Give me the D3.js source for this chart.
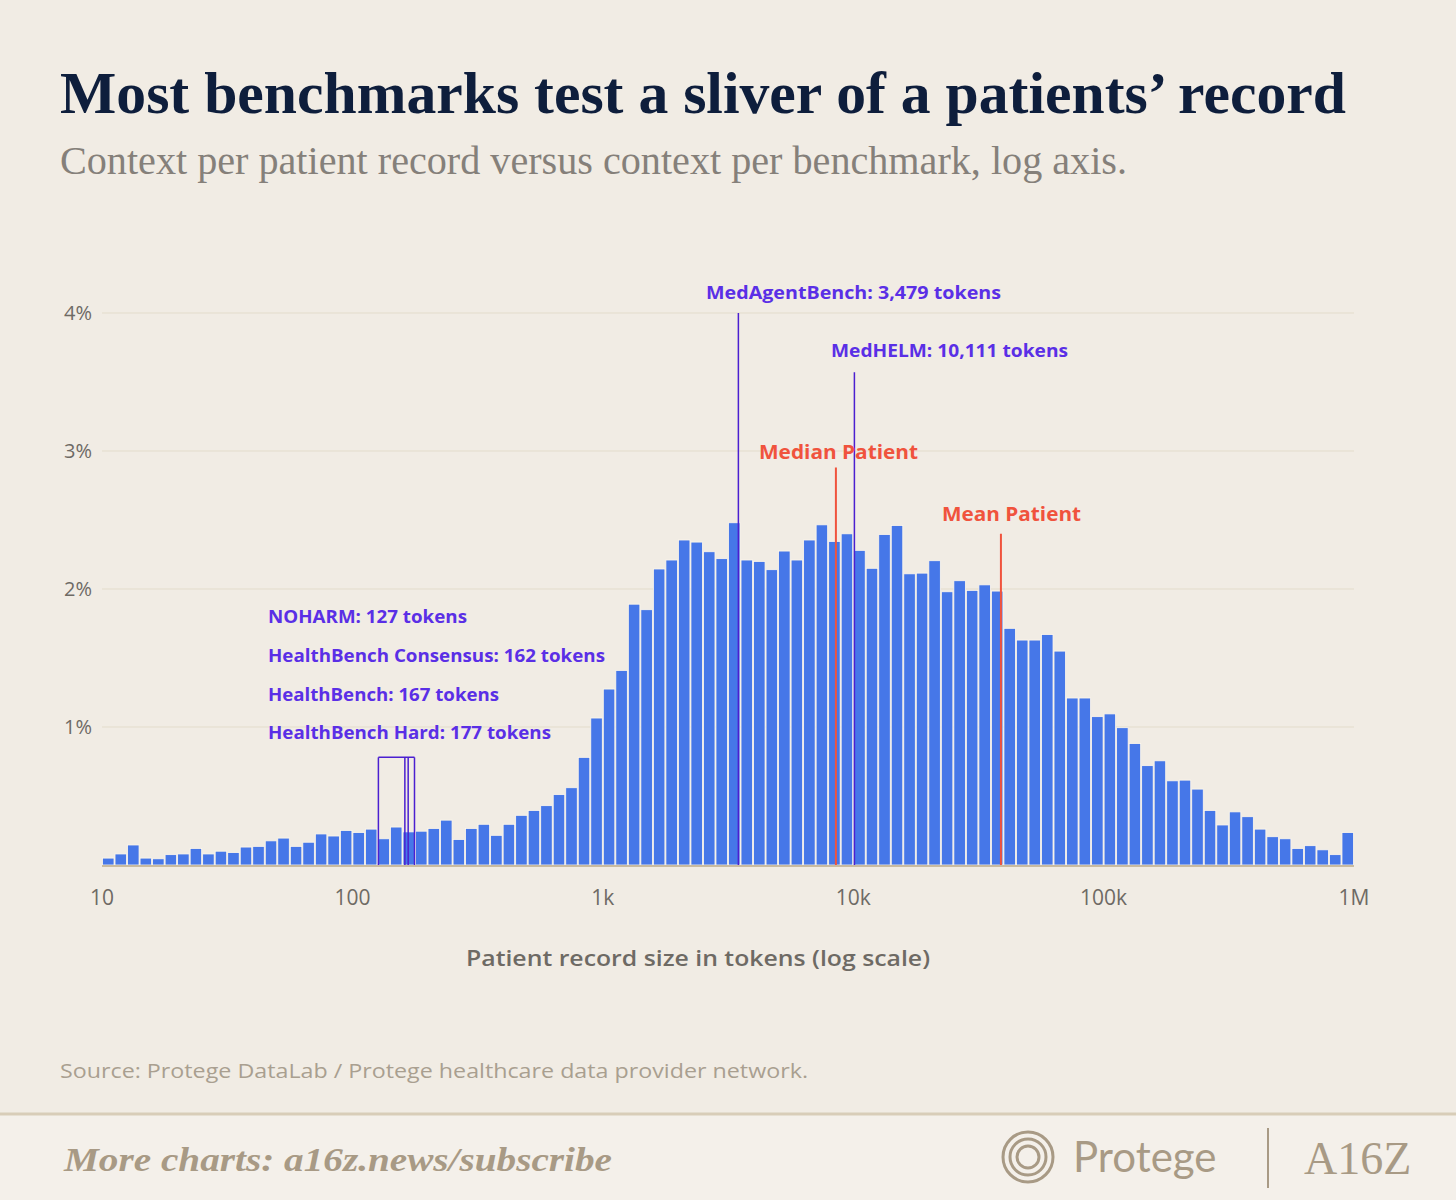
<!DOCTYPE html>
<html><head><meta charset="utf-8">
<script src="https://cdn.jsdelivr.net/npm/d3@7"></script>
<style>body{margin:0;background:#F1ECE4}</style></head>
<body><svg id="c" width="1456" height="1200"></svg>
<script>
const binValues=[0.05,0.08,0.145,0.05,0.045,0.075,0.08,0.12,0.08,0.10,0.09,0.13,0.135,0.175,0.195,0.135,0.165,0.225,0.21,0.25,
0.235,0.26,0.19,0.275,0.24,0.245,0.265,0.325,0.185,0.265,0.295,0.215,0.295,0.36,0.395,0.43,0.51,0.56,0.78,1.065,
1.275,1.41,1.89,1.85,2.145,2.21,2.355,2.34,2.27,2.22,2.48,2.21,2.20,2.14,2.275,2.21,2.355,2.465,2.345,2.40,
2.28,2.15,2.395,2.46,2.11,2.115,2.205,1.98,2.06,1.99,2.03,1.985,1.715,1.63,1.63,1.67,1.55,1.21,1.21,1.075,
1.095,0.995,0.88,0.72,0.755,0.61,0.615,0.55,0.395,0.29,0.385,0.35,0.26,0.205,0.19,0.12,0.14,0.11,0.075,0.235];
const xTicks=[10,100,1000,10000,100000,1000000];
const xTickLabels=["10","100","1k","10k","100k","1M"];
const yTicks=[1,2,3,4];
const bigBench=[{name:"MedAgentBench: 3,479 tokens",v:3479,top:4.0,lx:706,lw:295,ly:293},{name:"MedHELM: 10,111 tokens",v:10111,top:3.57,lx:831,lw:237,ly:351}];
const smallBench=[{name:"NOHARM: 127 tokens",v:127,lw:199},{name:"HealthBench Consensus: 162 tokens",v:162,lw:337},{name:"HealthBench: 167 tokens",v:167,lw:231},{name:"HealthBench Hard: 177 tokens",v:177,lw:283}];
const patients=[{name:"Median Patient",v:8530,top:2.88,lx:759,lw:159,ly:452},{name:"Mean Patient",v:38900,top:2.4,lx:942,lw:139,ly:514}];

const svg=d3.select("#c");
svg.append("rect").attr("width",1456).attr("height",1200).attr("fill","#F1ECE4");
const x=d3.scaleLog().domain([10,1e6]).range([102,1354]);
const y=d3.scaleLinear().domain([0,4]).range([865,313]);
const sans="'Open Sans', Lato, sans-serif";

svg.append("text").attr("x",60).attr("y",113).attr("font-family","'Liberation Serif',serif").attr("font-weight","bold").attr("font-size",60).attr("fill","#0E1E3C").attr("textLength",1286).attr("lengthAdjust","spacingAndGlyphs").text("Most benchmarks test a sliver of a patients’ record");
svg.append("text").attr("x",60).attr("y",174).attr("font-family","'Liberation Serif',serif").attr("font-size",40).attr("fill","#85807A").attr("textLength",1067).attr("lengthAdjust","spacingAndGlyphs").text("Context per patient record versus context per benchmark, log axis.");

svg.append("g").selectAll("line").data(yTicks).join("line").attr("x1",102).attr("x2",1354).attr("y1",d=>y(d)).attr("y2",d=>y(d)).attr("stroke","#E3DCCB").attr("stroke-width",1);
svg.append("g").selectAll("text").data(yTicks).join("text").attr("x",92).attr("y",d=>y(d)+7).attr("text-anchor","end").attr("font-family",sans).attr("font-size",20).attr("fill","#6E6A64").text(d=>d+"%");

const edges=d3.range(101).map(i=>Math.pow(10,1+i*0.05));
svg.append("g").selectAll("rect").data(binValues).join("rect")
 .attr("x",(d,i)=>x(edges[i])+0.5).attr("width",(d,i)=>x(edges[i+1])-x(edges[i])-1)
 .attr("y",d=>y(d)).attr("height",d=>y(0)-y(d)).attr("fill","#4677E8").attr("stroke","#FFF8EC").attr("stroke-width",0.8);

svg.append("line").attr("x1",102).attr("x2",1354).attr("y1",866).attr("y2",866).attr("stroke","#C9BBA0").attr("stroke-width",2);
svg.append("g").selectAll("text").data(xTicks).join("text").attr("x",d=>x(d)).attr("y",905).attr("text-anchor","middle").attr("font-family",sans).attr("font-size",21).attr("fill","#6E6A64").text((d,i)=>xTickLabels[i]);
svg.append("text").attr("x",466).attr("y",966).attr("font-family",sans).attr("font-weight","600").attr("font-size",21).attr("fill","#6E6A64").attr("textLength",464).attr("lengthAdjust","spacingAndGlyphs").text("Patient record size in tokens (log scale)");

const lbl=(t,xx,yy,w,col,fs)=>svg.append("text").attr("x",xx).attr("y",yy).attr("font-family",sans).attr("font-weight","bold").attr("font-size",fs).attr("fill",col).attr("textLength",w).attr("lengthAdjust","spacingAndGlyphs").text(t);
bigBench.forEach(b=>{
 svg.append("line").attr("x1",x(b.v)).attr("x2",x(b.v)).attr("y1",y(b.top)).attr("y2",865).attr("stroke","#4B1FD0").attr("stroke-width",1.5);
 lbl(b.name,b.lx,b.ly+6,b.lw,"#5A2FE6",17);
});
const sTop=y(0.78);
svg.append("line").attr("x1",x(127)).attr("x2",x(177)).attr("y1",sTop).attr("y2",sTop).attr("stroke","#4B1FD0").attr("stroke-width",1.5);
smallBench.forEach((b,i)=>{
 svg.append("line").attr("x1",x(b.v)).attr("x2",x(b.v)).attr("y1",sTop).attr("y2",865).attr("stroke","#4B1FD0").attr("stroke-width",1.5);
 lbl(b.name,268,623+i*38.8,b.lw,"#5A2FE6",17);
});
patients.forEach(p=>{
 svg.append("line").attr("x1",x(p.v)).attr("x2",x(p.v)).attr("y1",y(p.top)).attr("y2",865).attr("stroke","#F0533D").attr("stroke-width",2);
 lbl(p.name,p.lx,p.ly+7,p.lw,"#F0533D",19);
});

svg.append("text").attr("x",60).attr("y",1078).attr("font-family",sans).attr("font-size",20).attr("fill","#A99F90").attr("textLength",748).attr("lengthAdjust","spacingAndGlyphs").text("Source: Protege DataLab / Protege healthcare data provider network.");

svg.append("rect").attr("x",0).attr("y",1113).attr("width",1456).attr("height",87).attr("fill","#F4F0EA");
svg.append("line").attr("x1",0).attr("x2",1456).attr("y1",1114).attr("y2",1114).attr("stroke","#D8CDB8").attr("stroke-width",3);
svg.append("text").attr("x",64).attr("y",1171).attr("font-family","'Liberation Serif',serif").attr("font-style","italic").attr("font-weight","bold").attr("font-size",34).attr("fill","#A89A85").attr("textLength",548).attr("lengthAdjust","spacingAndGlyphs").text("More charts: a16z.news/subscribe");
const lg=svg.append("g").attr("fill","none").attr("stroke","#A89A85").attr("stroke-width",3);
[25,18,11].forEach(r=>lg.append("circle").attr("cx",1028).attr("cy",1157).attr("r",r));
svg.append("text").attr("x",1073).attr("y",1172).attr("font-family","Lato, sans-serif").attr("font-size",42).attr("fill","#A89A85").text("Protege");
svg.append("line").attr("x1",1268).attr("x2",1268).attr("y1",1128).attr("y2",1188).attr("stroke","#A89A85").attr("stroke-width",2);
svg.append("text").attr("x",1304).attr("y",1174).attr("font-family","'Liberation Serif',serif").attr("font-size",46).attr("fill","#A89A85").text("A16Z");
</script></body></html>
